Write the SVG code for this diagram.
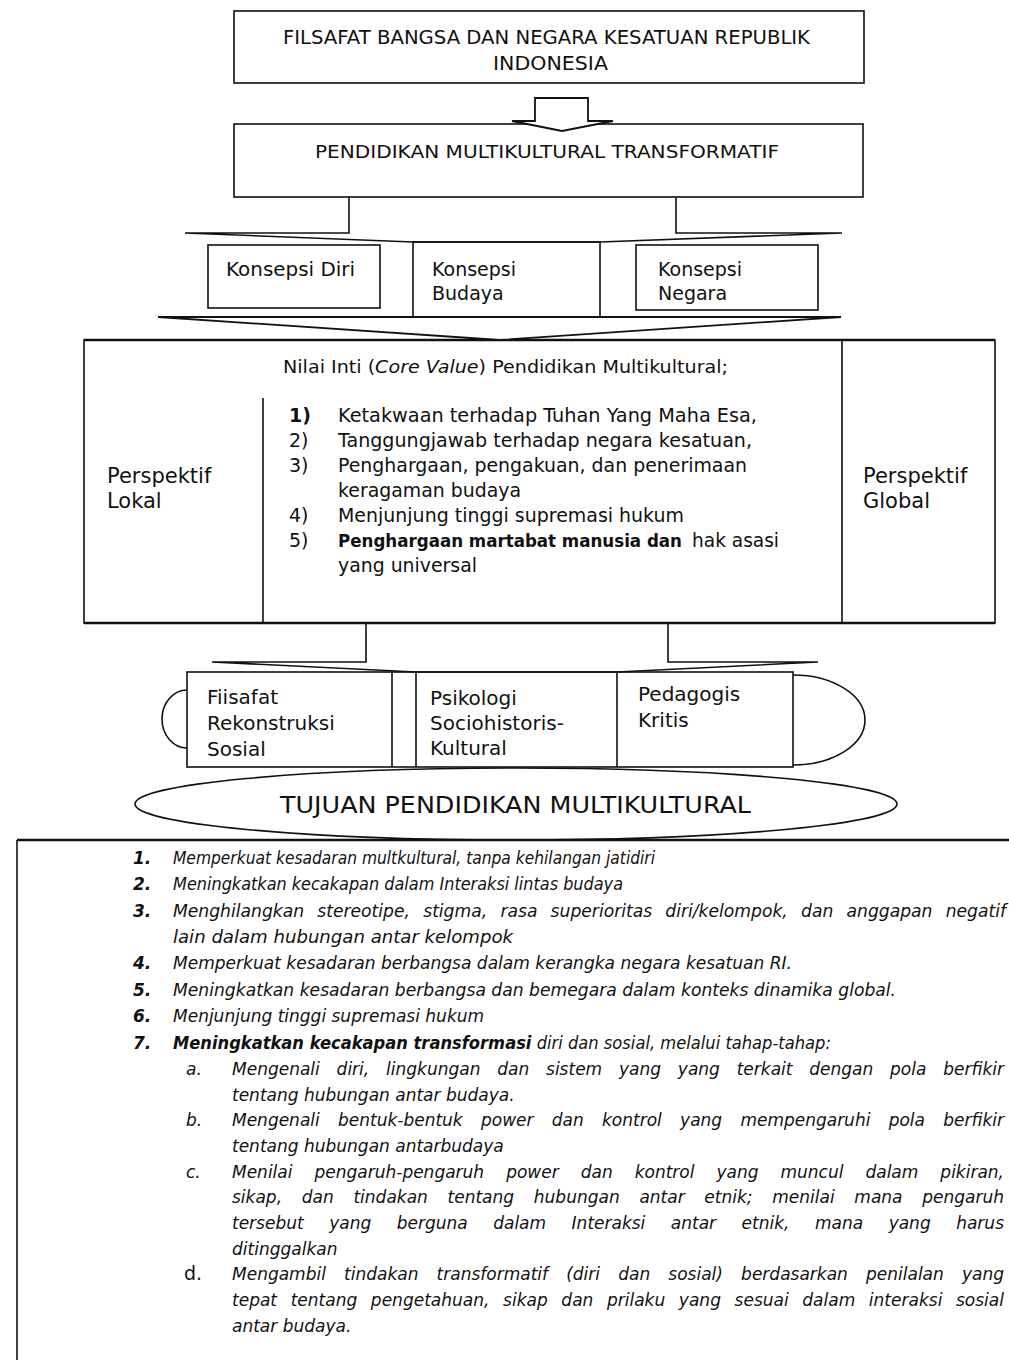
<svg xmlns="http://www.w3.org/2000/svg" width="1009" height="1360" viewBox="0 0 1009 1360">
<style>
.box{fill:#fff;stroke:#111;stroke-width:1.6}
.ln{fill:none;stroke:#111;stroke-width:1.6}
.thk{stroke-width:2.4}
.wf{fill:#fff;stroke:#111;stroke-width:1.8;stroke-linejoin:miter}
text{font-family:"DejaVu Sans",Verdana,sans-serif;fill:#111}
.t19{font-size:19px}
.t18{font-size:18px}
.t17{font-size:17px}
.t20{font-size:20px}
.t21{font-size:21px}
.li{font-size:17px;font-style:italic}
.num{font-size:17px;font-style:italic;font-weight:bold}
</style>
<rect x="0" y="0" width="1009" height="1360" fill="#fff"/>

<g id="node-filsafat">
<rect class="box" x="234" y="11" width="630" height="72"/>
<text class="t19" x="283" y="44" textLength="527" lengthAdjust="spacingAndGlyphs">FILSAFAT BANGSA DAN NEGARA KESATUAN REPUBLIK</text>
<text class="t19" x="493" y="70" textLength="115" lengthAdjust="spacingAndGlyphs">INDONESIA</text>
</g>

<g id="node-pendidikan">
<rect class="box" x="234" y="124" width="629" height="73"/>
<text class="t18" x="315" y="158" textLength="464" lengthAdjust="spacingAndGlyphs">PENDIDIKAN MULTIKULTURAL TRANSFORMATIF</text>
</g>

<g id="node-konsepsi-diri">
<rect class="box" x="208" y="245" width="172" height="63"/>
<text class="t19" x="226" y="276" textLength="129" lengthAdjust="spacingAndGlyphs">Konsepsi Diri</text>
</g>
<g id="node-konsepsi-budaya">
<rect class="box" x="413" y="242" width="187" height="75"/>
<text class="t19" x="432" y="276">Konsepsi</text>
<text class="t19" x="432" y="300">Budaya</text>
</g>
<g id="node-konsepsi-negara">
<rect class="box" x="636" y="245" width="182" height="65"/>
<text class="t19" x="658" y="276">Konsepsi</text>
<text class="t19" x="658" y="300">Negara</text>
</g>

<g id="node-nilai-inti">
<rect class="box" x="84" y="340" width="911" height="283"/>
<line class="ln thk" x1="84" y1="340" x2="995" y2="340"/>
<line class="ln thk" x1="84" y1="623" x2="995" y2="623"/>
<line class="ln" x1="263" y1="398" x2="263" y2="623"/>
<line class="ln" x1="842" y1="340" x2="842" y2="623"/>
<text class="t17" x="283" y="373" textLength="445" lengthAdjust="spacingAndGlyphs">Nilai Inti (<tspan font-style="italic">Core Value</tspan>) Pendidikan Multikultural;</text>
<g class="t19">
<text x="289" y="422" font-weight="bold">1)</text>
<text x="338" y="422" textLength="419" lengthAdjust="spacingAndGlyphs">Ketakwaan terhadap Tuhan Yang Maha Esa,</text>
<text x="289" y="447">2)</text>
<text x="338" y="447" textLength="414" lengthAdjust="spacingAndGlyphs">Tanggungjawab terhadap negara kesatuan,</text>
<text x="289" y="472">3)</text>
<text x="338" y="472" textLength="409" lengthAdjust="spacingAndGlyphs">Penghargaan, pengakuan, dan penerimaan</text>
<text x="338" y="497" textLength="183" lengthAdjust="spacingAndGlyphs">keragaman budaya</text>
<text x="289" y="522">4)</text>
<text x="338" y="522" textLength="346" lengthAdjust="spacingAndGlyphs">Menjunjung tinggi supremasi hukum</text>
<text x="289" y="547">5)</text>
<text x="338" y="547" font-size="17.5" font-weight="bold" textLength="344" lengthAdjust="spacingAndGlyphs">Penghargaan martabat manusia dan</text>
<text x="692" y="547" textLength="87" lengthAdjust="spacingAndGlyphs">hak asasi</text>
<text x="338" y="572" textLength="139" lengthAdjust="spacingAndGlyphs">yang universal</text>
</g>
</g>
<g id="node-perspektif-lokal">
<text class="t21" x="107" y="483">Perspektif</text>
<text class="t21" x="107" y="508">Lokal</text>
</g>
<g id="node-perspektif-global">
<text class="t21" x="863" y="483">Perspektif</text>
<text class="t21" x="863" y="508">Global</text>
</g>

<g id="node-landasan">
<path class="ln" d="M187,690 A25,29 0 0 0 187,748"/>
<path class="ln" d="M793,675 A72,45 0 0 1 793,765"/>
<rect class="box" x="187" y="672" width="606" height="95"/>
<line class="ln" x1="392" y1="672" x2="392" y2="767"/>
<line class="ln" x1="416" y1="672" x2="416" y2="767"/>
<line class="ln" x1="617" y1="672" x2="617" y2="767"/>
</g>
<g id="node-filsafat-rekonstruksi">
<text class="t20" x="207" y="704">Fiisafat</text>
<text class="t20" x="207" y="730">Rekonstruksi</text>
<text class="t20" x="207" y="756">Sosial</text>
</g>
<g id="node-psikologi">
<text class="t20" x="430" y="705">Psikologi</text>
<text class="t20" x="430" y="730">Sociohistoris-</text>
<text class="t20" x="430" y="755">Kultural</text>
</g>
<g id="node-pedagogis">
<text class="t20" x="638" y="701">Pedagogis</text>
<text class="t20" x="638" y="727">Kritis</text>
</g>

<g id="node-tujuan">
<ellipse class="box" cx="516" cy="804" rx="381" ry="36"/>
<text x="280" y="813" font-size="23" textLength="471" lengthAdjust="spacingAndGlyphs">TUJUAN PENDIDIKAN MULTIKULTURAL</text>
</g>

<g id="connectors">
<path class="wf" d="M535,121 V98 H588 V121 H613 L562,131 L512,121 Z"/>
<path class="ln" d="M349,197 V233 H185 L413,242 H600 L842,233 H676 V197"/>
<path class="wf" d="M158,317 H841 L500,340 Z"/>
<path class="ln" d="M366,623 V662 H212 L416,672 H617 L818,662 H668 V623"/>
</g>

<g id="node-daftar-tujuan">
<line class="ln thk" x1="17" y1="840" x2="1009" y2="840"/>
<line class="ln" x1="17" y1="840" x2="17" y2="1360"/>
<text class="num" x="133" y="864">1.</text>
<text class="li" x="173" y="864" textLength="482" lengthAdjust="spacingAndGlyphs">Memperkuat kesadaran multkultural, tanpa kehilangan jatidiri</text>
<text class="num" x="133" y="890">2.</text>
<text class="li" x="173" y="890" textLength="450" lengthAdjust="spacingAndGlyphs">Meningkatkan kecakapan dalam Interaksi lintas budaya</text>
<text class="num" x="133" y="917">3.</text>
<text class="li" x="173" y="917" word-spacing="7.7" textLength="833" lengthAdjust="spacingAndGlyphs">Menghilangkan stereotipe, stigma, rasa superioritas diri/kelompok, dan anggapan negatif</text>
<text class="li" x="173" y="943" textLength="340" lengthAdjust="spacingAndGlyphs">lain dalam hubungan antar kelompok</text>
<text class="num" x="133" y="969">4.</text>
<text class="li" x="173" y="969" textLength="619" lengthAdjust="spacingAndGlyphs">Memperkuat kesadaran berbangsa dalam kerangka negara kesatuan RI.</text>
<text class="num" x="133" y="996">5.</text>
<text class="li" x="173" y="996" textLength="723" lengthAdjust="spacingAndGlyphs">Meningkatkan kesadaran berbangsa dan bemegara dalam konteks dinamika global.</text>
<text class="num" x="133" y="1022">6.</text>
<text class="li" x="173" y="1022">Menjunjung tinggi supremasi hukum</text>
<text class="num" x="133" y="1049">7.</text>
<text class="li" x="173" y="1049" textLength="658" lengthAdjust="spacingAndGlyphs"><tspan font-weight="bold">Meningkatkan kecakapan transformasi</tspan> diri dan sosial, melalui tahap-tahap:</text>
<text class="li" x="186" y="1075">a.</text>
<text class="li" x="232" y="1075" word-spacing="11.4" textLength="772" lengthAdjust="spacingAndGlyphs">Mengenali diri, lingkungan dan sistem yang yang terkait dengan pola berfikir</text>
<text class="li" x="232" y="1101">tentang hubungan antar budaya.</text>
<text class="li" x="186" y="1126">b.</text>
<text class="li" x="232" y="1126" word-spacing="12.9" textLength="772" lengthAdjust="spacingAndGlyphs">Mengenali bentuk-bentuk power dan kontrol yang mempengaruhi pola berfikir</text>
<text class="li" x="232" y="1152">tentang hubungan antarbudaya</text>
<text class="li" x="186" y="1178">c.</text>
<text class="li" x="232" y="1178" word-spacing="16.6" textLength="772" lengthAdjust="spacingAndGlyphs">Menilai pengaruh-pengaruh power dan kontrol yang muncul dalam pikiran,</text>
<text class="li" x="232" y="1203" word-spacing="14.3" textLength="772" lengthAdjust="spacingAndGlyphs">sikap, dan tindakan tentang hubungan antar etnik; menilai mana pengaruh</text>
<text class="li" x="232" y="1229" word-spacing="20.1" textLength="772" lengthAdjust="spacingAndGlyphs">tersebut yang berguna dalam Interaksi antar etnik, mana yang harus</text>
<text class="li" x="232" y="1255">ditinggalkan</text>
<text x="184" y="1280" font-size="19">d.</text>
<text class="li" x="232" y="1280" word-spacing="12.75" textLength="772" lengthAdjust="spacingAndGlyphs">Mengambil tindakan transformatif (diri dan sosial) berdasarkan penilalan yang</text>
<text class="li" x="232" y="1306" word-spacing="8.2" textLength="772" lengthAdjust="spacingAndGlyphs">tepat tentang pengetahuan, sikap dan prilaku yang sesuai dalam interaksi sosial</text>
<text class="li" x="232" y="1332">antar budaya.</text>
</g>
</svg>
